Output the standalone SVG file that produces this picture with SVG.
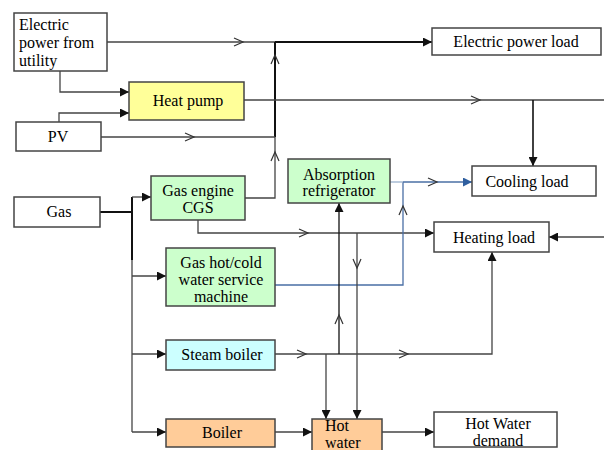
<svg xmlns="http://www.w3.org/2000/svg" width="604" height="450" viewBox="0 0 604 450" font-family="'Liberation Serif', 'Times New Roman', Tinos, 'DejaVu Serif', serif">
<defs>
<style>
.box{stroke:#444;stroke-width:1.5}
.w{fill:#fff}.y{fill:#ffff99}.g{fill:#ccffcc}.c{fill:#ccffff}.o{fill:#ffcc99}
text{font-family:'Liberation Serif','Times New Roman',Tinos,'DejaVu Serif',serif;font-size:16px;fill:#000}
.ln{fill:none;stroke:#444;stroke-width:1.3}
.thk{fill:none;stroke:#111;stroke-width:2}
.bl{fill:none;stroke:#4a6fa5;stroke-width:1.3}
.chev{fill:none;stroke:#333;stroke-width:1.2}
</style>
<marker id="af" viewBox="0 0 10 10" refX="10" refY="5" markerWidth="9" markerHeight="9" markerUnits="userSpaceOnUse" orient="auto"><path d="M0,0 L10,5 L0,10 Z" fill="#111"/></marker>
<marker id="ab" viewBox="0 0 10 10" refX="10" refY="5" markerWidth="9" markerHeight="9" markerUnits="userSpaceOnUse" orient="auto"><path d="M0,0 L10,5 L0,10 Z" fill="#2f5f9f"/></marker>
<path id="ch" d="M-9,-4 L0,0 L-9,4" class="chev"/>
</defs>

<g id="connectors">
<path class="ln" d="M107,42 H275"/>
<path class="thk" d="M275,42 H432" marker-end="url(#af)"/>
<path class="thk" d="M275,137 V42"/>
<path class="ln" d="M245,198 H275 V137"/>
<path class="ln" d="M101,137 H275"/>
<path class="ln" d="M60,71 V92 H129" marker-end="url(#af)"/>
<path class="ln" d="M59,122 V113 H129" marker-end="url(#af)"/>
<path class="ln" d="M244,100 H604"/>
<path class="ln" d="M533,100 V166" marker-end="url(#af)" style="stroke:#111;stroke-width:1.6"/>
<path class="thk" d="M100,212 H132"/>
<path class="thk" d="M132,197 V260"/>
<path class="ln" d="M132,260 V432"/>
<path class="ln" d="M132,197 H151" marker-end="url(#af)"/>
<path class="ln" d="M132,276 H166" marker-end="url(#af)"/>
<path class="ln" d="M132,354 H166" marker-end="url(#af)"/>
<path class="ln" d="M132,432 H166" marker-end="url(#af)"/>
<path class="ln" d="M198,220 V233 H434" marker-end="url(#af)"/>
<path class="bl" d="M275,285 H403 V182"/>
<path class="bl" d="M390,182 H403" style="stroke:#9ab0cc"/>
<path class="bl" d="M403,182 H472" marker-end="url(#ab)"/>
<path class="ln" d="M275,354 H492 V252" marker-end="url(#af)"/>
<path class="ln" d="M339,354 V203" marker-end="url(#af)" style="stroke:#111"/>
<path class="ln" d="M326,354 V419" marker-end="url(#af)"/>
<path class="ln" d="M357,233 V419" marker-end="url(#af)"/>
<path class="ln" d="M275,432 H312" marker-end="url(#af)"/>
<path class="ln" d="M382,432 H434" marker-end="url(#af)"/>
<path class="ln" d="M604,237 H549" marker-end="url(#af)"/>
<use href="#ch" transform="translate(243,42)"/>
<use href="#ch" transform="translate(275,55) rotate(-90)"/>
<use href="#ch" transform="translate(275,152) rotate(-90)"/>
<use href="#ch" transform="translate(194,137)"/>
<use href="#ch" transform="translate(480,100)"/>
<use href="#ch" transform="translate(308,233)"/>
<use href="#ch" transform="translate(403,206) rotate(-90)"/>
<use href="#ch" transform="translate(437,182)"/>
<use href="#ch" transform="translate(306,354)"/>
<use href="#ch" transform="translate(408,354)"/>
<use href="#ch" transform="translate(339,315) rotate(-90)"/>
<use href="#ch" transform="translate(357,268) rotate(90)"/>
</g>

<g id="utility"><rect class="box w" x="14" y="13" width="93" height="58"/>
<text x="19" y="30">Electric</text><text x="19" y="48">power from</text><text x="19" y="66">utility</text></g>
<g id="heatpump"><rect class="box y" x="129" y="82" width="115" height="38"/>
<text x="188" y="106" text-anchor="middle">Heat pump</text></g>
<g id="pv"><rect class="box w" x="16" y="122" width="85" height="29"/>
<text x="58" y="142" text-anchor="middle">PV</text></g>
<g id="elecload"><rect class="box w" x="432" y="28" width="169" height="27"/>
<text x="516" y="47" text-anchor="middle">Electric  power load</text></g>
<g id="gas"><rect class="box w" x="14" y="197" width="86" height="30"/>
<text x="59" y="217" text-anchor="middle">Gas</text></g>
<g id="cgs"><rect class="box g" x="151" y="176" width="94" height="44"/>
<text x="198" y="196" text-anchor="middle">Gas engine</text><text x="198" y="213" text-anchor="middle">CGS</text></g>
<g id="absorption"><rect class="box g" x="288" y="159" width="102" height="44"/>
<text x="339" y="180" text-anchor="middle">Absorption</text><text x="339" y="196" text-anchor="middle">refrigerator</text></g>
<g id="cooling"><rect class="box w" x="472" y="166" width="124" height="30"/>
<text x="527" y="187" text-anchor="middle">Cooling load</text></g>
<g id="heating"><rect class="box w" x="434" y="222" width="115" height="30"/>
<text x="494" y="243" text-anchor="middle">Heating load</text></g>
<g id="gashotcold"><rect class="box g" x="166" y="248" width="109" height="58"/>
<text x="221" y="268" text-anchor="middle">Gas hot/cold</text><text x="221" y="285" text-anchor="middle">water service</text><text x="221" y="302" text-anchor="middle">machine</text></g>
<g id="steamboiler"><rect class="box c" x="166" y="340" width="109" height="30"/>
<text x="222" y="360" text-anchor="middle">Steam boiler</text></g>
<g id="boiler"><rect class="box o" x="166" y="419" width="109" height="28"/>
<text x="222" y="438" text-anchor="middle">Boiler</text></g>
<g id="hotwater"><rect class="box o" x="312" y="419" width="70" height="45"/>
<text x="325" y="431">Hot</text><text x="325" y="448">water</text></g>
<g id="hwdemand"><rect class="box w" x="434" y="412" width="123" height="35"/>
<text x="498" y="429" text-anchor="middle">Hot Water</text><text x="498" y="446" text-anchor="middle">demand</text></g>
</svg>
